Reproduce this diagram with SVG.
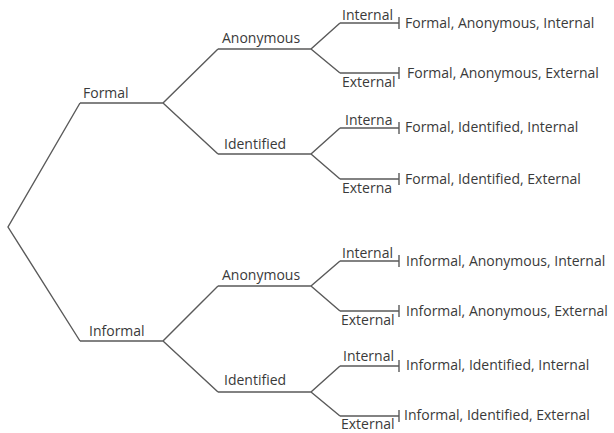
<svg xmlns="http://www.w3.org/2000/svg" width="614" height="433" viewBox="0 0 614 433">
<style>
.c{fill:none;stroke:#5a5a5a;stroke-width:1.4;stroke-linejoin:miter}
.t{font-family:"Open Sans","Liberation Sans",Arial,sans-serif;font-size:14px;fill:#3a3a3a}
</style>
<rect width="614" height="433" fill="#fff"/>
<g id="connectors">
<path class="c" d="M80,103 L8,227 L80,341"/>
<path class="c" d="M80,103 H163 M218,49 L163,103 L218,154"/>
<path class="c" d="M80,341 H163 M218,286 L163,341 L218,392"/>
<path class="c" d="M218,49 H311 M340,23 L311,49 L340,73"/>
<path class="c" d="M218,154 H311 M340,128 L311,154 L340,179"/>
<path class="c" d="M218,286 H311 M340,261 L311,286 L340,311"/>
<path class="c" d="M218,392 H311 M340,366 L311,392 L340,416"/>
<path class="c" d="M340,23 H399 M399,17 V29"/>
<path class="c" d="M340,73 H399 M399,67 V79"/>
<path class="c" d="M340,128 H399 M399,122 V134"/>
<path class="c" d="M340,179 H399 M399,173 V185"/>
<path class="c" d="M340,261 H399 M399,255 V267"/>
<path class="c" d="M340,311 H399 M399,305 V317"/>
<path class="c" d="M340,366 H399 M399,360 V372"/>
<path class="c" d="M340,416 H399 M399,410 V422"/>
</g>
<g id="formal"><text class="t" x="83" y="98">Formal</text></g>
<g id="informal"><text class="t" x="89" y="336">Informal</text></g>
<g id="formal-anonymous"><text class="t" x="222" y="43">Anonymous</text></g>
<g id="formal-identified"><text class="t" x="224" y="149">Identified</text></g>
<g id="informal-anonymous"><text class="t" x="222" y="280">Anonymous</text></g>
<g id="informal-identified"><text class="t" x="224" y="385">Identified</text></g>
<g id="fa-internal"><text class="t" x="342" y="20">Internal</text><text class="t" x="405" y="28">Formal, Anonymous, Internal</text></g>
<g id="fa-external"><text class="t" x="342" y="87">External</text><text class="t" x="407" y="78">Formal, Anonymous, External</text></g>
<g id="fi-internal"><text class="t" x="345" y="125">Interna</text><text class="t" x="405" y="132">Formal, Identified, Internal</text></g>
<g id="fi-external"><text class="t" x="342" y="193">Externa</text><text class="t" x="405" y="184">Formal, Identified, External</text></g>
<g id="ia-internal"><text class="t" x="342" y="258">Internal</text><text class="t" x="406" y="266">Informal, Anonymous, Internal</text></g>
<g id="ia-external"><text class="t" x="341" y="325">External</text><text class="t" x="406" y="316">Informal, Anonymous, External</text></g>
<g id="ii-internal"><text class="t" x="343" y="361">Internal</text><text class="t" x="406" y="370">Informal, Identified, Internal</text></g>
<g id="ii-external"><text class="t" x="341" y="429">External</text><text class="t" x="404" y="420">Informal, Identified, External</text></g>
</svg>
